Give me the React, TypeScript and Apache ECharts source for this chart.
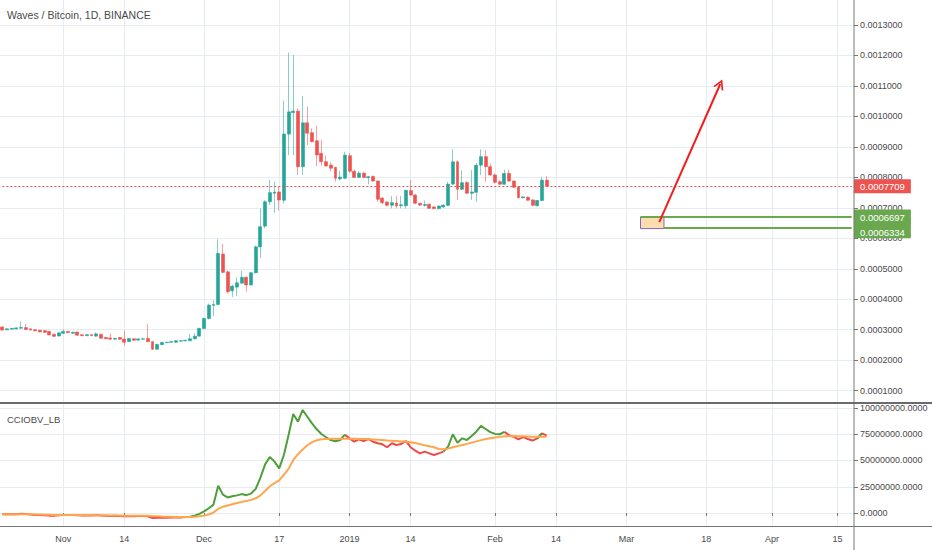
import React, { useEffect, useRef } from "react";
import * as echarts from "echarts";

const FONT = '"Liberation Sans", Arial, sans-serif';

// ---- time axis ----
const START_DATE = "2018-10-19";
const DAY_COUNT = 182;
const xTickLabels: [string, string][] = [
  ["2018-11-01", "Nov"], ["2018-11-14", "14"], ["2018-12-01", "Dec"], ["2018-12-17", "17"],
  ["2019-01-01", "2019"], ["2019-01-14", "14"], ["2019-02-01", "Feb"], ["2019-02-14", "14"],
  ["2019-03-01", "Mar"], ["2019-03-18", "18"], ["2019-04-01", "Apr"], ["2019-04-15", "15"],
];

// ---- daily OHLC, WAVES/BTC, units of 1e-7 BTC (2018-10-19 .. 2019-02-12) ----
const opens = [
  3089, 3000, 3020, 3030, 3050, 3070, 3030, 3000, 2985, 2970, 2945, 2850, 2795,
  2885, 2945, 2885, 2925, 2835, 2805, 2840, 2790, 2850, 2750, 2730, 2690, 2745, 2695,
  2610, 2705, 2660, 2690, 2715, 2610, 2360, 2510, 2575, 2590, 2590, 2625, 2635,
  2640, 2700, 2790,
  3040, 3370, 3800, 3830, 5484, 4900, 4280, 4400, 4530, 4720, 4470, 4870, 5720, 6400, 7200, 7480, 7520,
  7250, 9420, 10125, 10175, 8350, 9790, 9465, 9200, 8790, 8515, 8405, 8330, 7950, 7970,
  8710, 8200, 8000, 8140, 7990, 8030, 7880, 7320, 7190, 7085, 7160, 7070, 7070, 7565, 7420, 7150, 7080, 7120, 7030, 6975, 7030,
  7080, 7780, 8510, 7610, 7830, 7480, 7510, 8400, 8680, 8350,
  8080, 7860, 7775, 8130, 7880, 7690, 7330, 7350, 7260, 7070, 7240, 7910,
];
const highs = [
  3120, 3050, 3060, 3080, 3270, 3190, 3040, 3010, 2995, 2985, 2955, 2860, 2910,
  3010, 2960, 2935, 2935, 2850, 2850, 2850, 2915, 2870, 2760, 2880, 2730, 2760, 2965,
  2730, 2715, 2710, 2715, 3185, 2620, 2530, 2600, 2600, 2620, 2650, 2660, 2670,
  2860, 2880, 3060,
  3400, 3860, 3975, 5967, 5813, 4950, 4480, 4720, 4936, 4760, 4900, 5760, 6980, 7250, 7910, 7860, 7693,
  10516, 12091, 12016, 10250, 10670, 10320, 9610, 9690, 9230, 8720, 8500, 8350, 8210, 8840,
  8800, 8250, 8200, 8170, 8050, 8060, 7900, 7350, 7220, 7390, 7390, 7390, 7600, 7913, 7460, 7170, 7241, 7140, 7050, 7080, 7120,
  7850, 8921, 8560, 8240, 7880, 8240, 8480, 8921, 8898, 8450,
  8120, 7900, 8250, 8250, 7900, 7710, 7380, 7370, 7280, 7260, 8022, 8044,
];
const lows = [
  2970, 2985, 3000, 3010, 3030, 3000, 2980, 2955, 2920, 2905, 2820, 2770, 2785,
  2875, 2895, 2875, 2810, 2795, 2795, 2800, 2780, 2710, 2695, 2680, 2680, 2680, 2465,
  2600, 2645, 2650, 2680, 2600, 2340, 2350, 2500, 2565, 2580, 2560, 2615, 2625,
  2630, 2690, 2780,
  3020, 3340, 3450, 3800, 4850, 4190, 4080, 4110, 4500, 4250, 4450, 4850, 5350, 6328, 7090, 6840, 6906,
  7150, 8733, 8733, 8077, 8080, 9060, 9150, 8370, 8380, 8350, 8200, 7857, 7900, 7950,
  8150, 7980, 7980, 7970, 7770, 7860, 7200, 7120, 7050, 6985, 6985, 6985, 6972, 7400, 7130, 7060, 7037, 6970, 6950, 6950, 7000,
  7060, 7750, 7260, 7580, 7450, 7260, 7200, 8077, 7860, 8050,
  7800, 7750, 7750, 7860, 7650, 7300, 7310, 7230, 7050, 7040, 7220, 7700,
];
const closes = [
  2990, 3030, 3045, 3060, 3075, 3010, 2990, 2965, 2930, 2915, 2830, 2785, 2900,
  2945, 2905, 2920, 2820, 2805, 2840, 2805, 2865, 2720, 2705, 2690, 2720, 2690, 2590,
  2715, 2655, 2700, 2705, 2610, 2360, 2520, 2585, 2590, 2610, 2640, 2640, 2655,
  2705, 2790, 3045,
  3370, 3810, 3830, 5507, 4884, 4247, 4430, 4540, 4720, 4470, 4870, 5720, 6380, 7200, 7500, 7520, 7257,
  9423, 10150, 10175, 8350, 9790, 9450, 9170, 8735, 8515, 8375, 8300, 7970, 8010, 8730,
  8200, 8000, 8140, 8000, 8020, 7880, 7280, 7170, 7085, 7170, 7060, 7100, 7575, 7420, 7150, 7090, 7110, 6985, 6975, 7060, 7090,
  7780, 8510, 7610, 7825, 7480, 7520, 8400, 8680, 8350, 8080,
  7840, 7775, 8130, 7880, 7675, 7335, 7360, 7250, 7085, 7240, 7910, 7709,
];
const PRICE_UNIT = 1e-7;

// ---- CCIOBV_LB indicator, millions ----
const obvLine = [
  -1.2, -1.3, -1.2, -1.3, -0.6, -1.0, -1.5, -1.8, -2.0, -2.2, -2.5, -2.6, -2.1,
  -1.8, -2.0, -1.8, -2.2, -2.4, -2.2, -2.4, -2.0, -2.4, -2.6, -2.8, -2.6, -2.8, -3.2,
  -2.8, -3.0, -2.9, -2.8, -3.2, -4.8, -4.6, -4.5, -4.5, -4.4, -4.3, -4.2, -3.9,
  -3.5, -2.6, -0.8,
  1.5, 4.5, 8.0, 26.0, 17.5, 14.8, 16.0, 16.8, 18.0, 17.0, 18.5, 23.0, 33.7, 46.3, 53.3, 48.9, 42.5,
  55.2, 74.3, 94.3, 87.0, 98.1, 91.7, 85.4, 79.7, 75.2, 72.1, 69.5, 68.3, 69.5, 74.6,
  71.1, 67.9, 70.2, 68.6, 70.5, 67.9, 66.4, 65.4, 62.6, 66.4, 64.8, 65.7, 68.6, 62.6, 59.3, 56.8, 58.4, 56.8, 55.2, 56.8, 58.4,
  63.2, 74.9, 67.0, 71.1, 69.5, 73.3, 77.4, 83.0, 80.0, 77.0,
  75.3, 75.0, 77.3, 74.0, 72.5, 70.2, 72.2, 70.5, 69.0, 71.0, 75.8, 73.6,
];
const obvEma = [
  -1.4, -1.4, -1.4, -1.4, -1.3, -1.3, -1.3, -1.4, -1.5, -1.6, -1.7, -1.8, -1.8,
  -1.8, -1.9, -1.9, -1.9, -2.0, -2.0, -2.1, -2.1, -2.2, -2.2, -2.3, -2.3, -2.4, -2.5,
  -2.5, -2.6, -2.6, -2.6, -2.7, -3.0, -3.2, -3.4, -3.5, -3.6, -3.7, -3.7, -3.7,
  -3.7, -3.5, -3.1,
  -2.5, -1.5, 0.5, 4.0, 6.0, 7.2, 8.4, 9.5, 10.6, 11.5, 12.5, 14.0, 16.8, 21.0, 25.5, 28.5, 31.0,
  36.5, 42.0, 50.5, 56.0, 60.5, 64.5, 67.5, 69.3, 70.2, 70.5, 70.6, 70.6, 70.6, 70.7,
  70.7, 70.6, 70.5, 70.4, 70.3, 70.1, 69.8, 69.5, 69.1, 68.8, 68.5, 68.2, 68.0, 67.4, 66.6, 65.6, 64.6, 63.6, 62.6, 61.0, 60.8,
  61.3, 62.6, 63.7, 64.8, 65.8, 67.0, 68.2, 69.4, 70.4, 71.2,
  71.9, 72.5, 73.0, 73.2, 73.3, 73.2, 73.1, 72.9, 72.7, 72.5, 72.6, 72.6,
];
const OBV_UNIT = 1e6;
// colour of the OBV line from each date on (g = CCI >= 0, r = CCI < 0)
const cciColorRuns: [string, "g" | "r"][] = [
  ["2018-10-19", "r"], ["2018-11-28", "g"], ["2019-01-01", "r"], ["2019-01-22", "g"],
  ["2019-02-04", "r"], ["2019-02-11", "g"], ["2019-02-12", "r"],
];

// ---- axes ----
const PRICE_MIN = 0.00005964;
const PRICE_MAX = 0.00138203;
const priceTicks = [0.0001, 0.0002, 0.0003, 0.0004, 0.0005, 0.0006, 0.0007, 0.0008, 0.0009, 0.001, 0.0011, 0.0012, 0.0013];
const OBV_MIN = -12.38e6;
const OBV_MAX = 104.76e6;
const obvTicks = [0, 25e6, 50e6, 75e6, 100e6];

// ---- drawings ----
const lastPrice = 0.0007709;
const levelTop = 0.0006697;
const levelBottom = 0.0006334;
const boxBottom = 0.000632;
const boxStart = "2019-03-04";
const boxEnd = "2019-03-09";
const arrowFrom: [string, number] = ["2019-03-08", 0.0006534];
const arrowTo: [string, number] = ["2019-03-21", 0.0011064];

const UP = "#26a69a";
const DOWN = "#ef5350";
const UP_WICK = "rgba(38,166,154,0.55)";
const DOWN_WICK = "rgba(239,83,80,0.55)";
const GRID = "#e6ecf1";
const AXIS = "#767676";
const LABEL = "#4a4a4a";
const GREEN_LVL = "#6aa84f";

function buildDays(start: string, n: number): string[] {
  const [y, m, d] = start.split("-").map(Number);
  const t0 = Date.UTC(y, m - 1, d);
  const out: string[] = [];
  for (let i = 0; i < n; i++) out.push(new Date(t0 + i * 86400000).toISOString().slice(0, 10));
  return out;
}

function buildOption() {
  const days = buildDays(START_DATE, DAY_COUNT);
  const firstDay = days[0];
  const lastDay = days[days.length - 1];
  const tickMap = new Map(xTickLabels);
  const isTick = (_i: number, v: string) => tickMap.has(v);

  const wickData = opens.map((o, i) => [o * PRICE_UNIT, closes[i] * PRICE_UNIT, lows[i] * PRICE_UNIT, highs[i] * PRICE_UNIT]);
  const bodyData = opens.map((o, i) => {
    const c = closes[i];
    return [o * PRICE_UNIT, c * PRICE_UNIT, Math.min(o, c) * PRICE_UNIT, Math.max(o, c) * PRICE_UNIT];
  });

  const flagOf = (day: string) => {
    let f: "g" | "r" = "r";
    for (const [d, c] of cciColorRuns) if (day >= d) f = c;
    return f;
  };
  const flags = obvLine.map((_, i) => flagOf(days[i]));
  const part = (c: "g" | "r") =>
    obvLine.map((v, i) => (flags[i] === c || flags[i + 1] === c ? v * OBV_UNIT : "-"));

  const valueLabel = (decimals: number) => (v: number) => v.toFixed(decimals);

  const splitX = { show: true, interval: isTick, alignWithLabel: true, lineStyle: { color: GRID, width: 1 } };

  const tagLabel = (text: string, bg: string, lineHeight: number, padding: number[]) => ({
    show: true,
    position: "end",
    formatter: text,
    distance: 2.3,
    color: "#ffffff",
    backgroundColor: bg,
    padding,
    fontSize: 9.5,
    lineHeight,
    fontFamily: FONT,
  });

  const chevron = "path://M0,10L5,0L10,10L8.3,10L5,3.4L1.7,10Z";

  return {
    animation: false,
    backgroundColor: "#ffffff",
    textStyle: { fontFamily: FONT },
    title: [
      {
        text: "Waves / Bitcoin, 1D, BINANCE",
        left: 7,
        top: 9,
        padding: 0,
        textStyle: { fontSize: 10.5, fontWeight: "normal", color: LABEL, fontFamily: FONT },
      },
      {
        text: "CCIOBV_LB",
        left: 7,
        top: 414,
        padding: 0,
        textStyle: { fontSize: 9.5, fontWeight: "normal", color: LABEL, fontFamily: FONT },
      },
    ],
    grid: [
      { left: 0, right: 78, top: 0, height: 403, containLabel: false, outerBoundsMode: "none" },
      { left: 0, right: 78, top: 403, height: 123, containLabel: false, outerBoundsMode: "none" },
    ],
    xAxis: [
      {
        type: "category",
        gridIndex: 0,
        data: days,
        boundaryGap: true,
        axisLine: { show: false },
        axisTick: { show: false },
        axisLabel: { show: false },
        splitLine: splitX,
      },
      {
        type: "category",
        gridIndex: 1,
        data: days,
        boundaryGap: true,
        axisLine: { show: false },
        axisTick: { show: true, interval: isTick, alignWithLabel: true, length: 3, lineStyle: { color: AXIS } },
        axisLabel: {
          show: true,
          interval: isTick,
          formatter: (v: string) => tickMap.get(v) ?? "",
          margin: 8,
          color: LABEL,
          fontSize: 9,
          fontFamily: FONT,
        },
        splitLine: splitX,
      },
    ],
    yAxis: [
      {
        type: "value",
        gridIndex: 0,
        position: "right",
        min: PRICE_MIN,
        max: PRICE_MAX,
        axisLine: { show: false },
        axisTick: { show: true, customValues: priceTicks, length: 4, lineStyle: { color: AXIS } },
        axisLabel: {
          customValues: priceTicks,
          formatter: valueLabel(7),
          margin: 6,
          color: LABEL,
          fontSize: 9,
          fontFamily: FONT,
        },
        splitLine: { show: true, lineStyle: { color: GRID, width: 1 } },
      },
      {
        type: "value",
        gridIndex: 1,
        position: "right",
        min: OBV_MIN,
        max: OBV_MAX,
        axisLine: { show: false },
        axisTick: { show: true, customValues: obvTicks, length: 4, lineStyle: { color: AXIS } },
        axisLabel: {
          customValues: obvTicks,
          formatter: valueLabel(4),
          margin: 6,
          color: LABEL,
          fontSize: 9,
          fontFamily: FONT,
        },
        splitLine: { show: true, lineStyle: { color: GRID, width: 1 } },
      },
    ],
    graphic: [
      { type: "line", shape: { x1: 854, y1: 0, x2: 854, y2: 550 }, style: { stroke: AXIS, lineWidth: 1 }, z: 10, silent: true },
      { type: "line", shape: { x1: 0, y1: 403, x2: 932, y2: 403 }, style: { stroke: "#6a6a6a", lineWidth: 2 }, z: 10, silent: true },
      { type: "line", shape: { x1: 0, y1: 526.5, x2: 932, y2: 526.5 }, style: { stroke: AXIS, lineWidth: 1.2 }, z: 10, silent: true },
    ],
    series: [
      {
        type: "candlestick",
        name: "wicks",
        xAxisIndex: 0,
        yAxisIndex: 0,
        data: wickData,
        barWidth: 1,
        silent: true,
        itemStyle: { color: UP_WICK, color0: DOWN_WICK, borderColor: UP_WICK, borderColor0: DOWN_WICK, borderWidth: 1 },
      },
      {
        type: "candlestick",
        name: "WAVESBTC",
        xAxisIndex: 0,
        yAxisIndex: 0,
        data: bodyData,
        barWidth: 3.4,
        silent: true,
        itemStyle: { color: UP, color0: DOWN, borderColor: UP, borderColor0: DOWN, borderWidth: 0.6 },
        markArea: {
          silent: true,
          data: [
            [
              { coord: [boxStart, levelTop], itemStyle: { color: "#ffdcae", borderColor: "#7e6bc9", borderWidth: 1 } },
              { coord: [boxEnd, boxBottom] },
            ],
          ],
        },
        markLine: {
          silent: true,
          symbol: ["none", "none"],
          animation: false,
          emphasis: { disabled: true },
          data: [
            [
              {
                coord: [firstDay, lastPrice],
                lineStyle: { color: DOWN, type: [2, 2], width: 1 },
                label: tagLabel(lastPrice.toFixed(7), DOWN, 12, [1, 6, 1, 6]),
              },
              { coord: [lastDay, lastPrice] },
            ],
            [
              {
                coord: [boxEnd, levelBottom],
                lineStyle: { color: GREEN_LVL, type: "solid", width: 2 },
                // leading empty line pushes the tag text below its line, as the reference does
                label: tagLabel("\n" + levelBottom.toFixed(7), GREEN_LVL, 8, [1, 6, 3, 6]),
              },
              { coord: [lastDay, levelBottom] },
            ],
            [
              {
                coord: [boxStart, levelTop],
                lineStyle: { color: GREEN_LVL, type: "solid", width: 2 },
                label: tagLabel(levelTop.toFixed(7), GREEN_LVL, 13, [1, 6, 1, 6]),
              },
              { coord: [lastDay, levelTop] },
            ],
            [
              {
                coord: arrowFrom,
                symbol: "none",
                lineStyle: { color: "#f21d1d", type: "solid", width: 2 },
                label: { show: false },
              },
              { coord: arrowTo, symbol: chevron, symbolSize: [11, 10] },
            ],
          ],
        },
      },
      {
        type: "line",
        name: "OBV_CCI coded (red)",
        xAxisIndex: 1,
        yAxisIndex: 1,
        data: part("r"),
        showSymbol: false,
        silent: true,
        lineStyle: { color: "#f04747", width: 2 },
        itemStyle: { color: "#f04747" },
      },
      {
        type: "line",
        name: "OBV_CCI coded (green)",
        xAxisIndex: 1,
        yAxisIndex: 1,
        data: part("g"),
        showSymbol: false,
        silent: true,
        lineStyle: { color: "#4e9e3a", width: 2 },
        itemStyle: { color: "#4e9e3a" },
      },
      {
        type: "line",
        name: "EMA",
        xAxisIndex: 1,
        yAxisIndex: 1,
        data: obvEma.map((v) => v * OBV_UNIT),
        showSymbol: false,
        silent: true,
        lineStyle: { color: "#ffa64d", width: 2 },
        itemStyle: { color: "#ffa64d" },
      },
    ],
  };
}

export default function App() {
  const ref = useRef<HTMLDivElement>(null);
  useEffect(() => {
    if (!ref.current) return;
    const chart = echarts.init(ref.current, undefined, { renderer: "svg" });
    chart.setOption(buildOption() as any);
    return () => chart.dispose();
  }, []);
  return (
    <div
      ref={ref}
      style={{ position: "absolute", left: 0, top: 0, width: 932, height: 550, background: "#ffffff" }}
    />
  );
}
